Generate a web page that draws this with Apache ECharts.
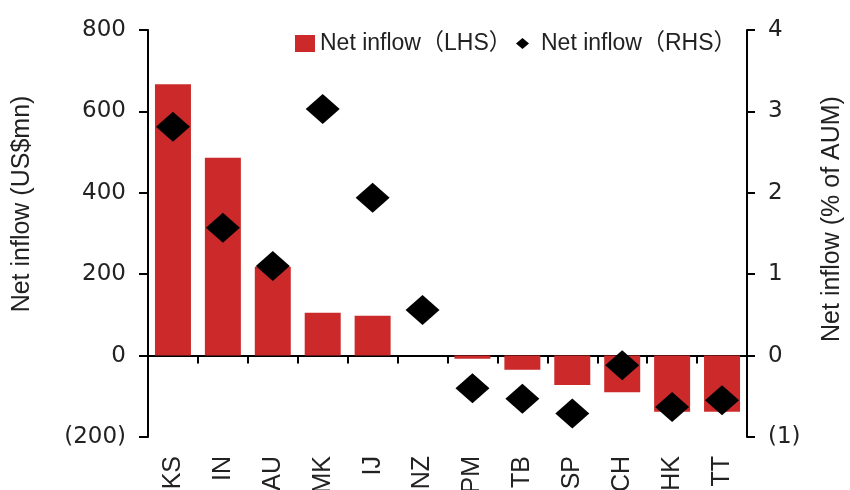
<!DOCTYPE html>
<html>
<head>
<meta charset="utf-8">
<script src="https://cdn.jsdelivr.net/npm/echarts@6/dist/echarts.min.js"></script>
<style>
html,body{margin:0;padding:0;background:#fff;}
#chart{width:850px;height:490px;}
</style>
</head>
<body>
<div id="chart"></div>
<script>
var categories = ['KS','IN','AU','MK','IJ','NZ','PM','TB','SP','CH','HK','TT'];
var netInflowLHS = [667, 486, 218, 105, 98, 0, -8, -35, -72, -90, -138, -138];
var netInflowRHS = [2.81, 1.57, 1.10, 3.03, 1.94, 0.56, -0.40, -0.53, -0.71, -0.12, -0.63, -0.55];
var lhsName = 'Net inflow（LHS）';
var rhsName = 'Net inflow（RHS）';
var leftTitle = 'Net inflow (US$mn)';
var rightTitle = 'Net inflow (% of AUM)';

var ARIAL = '"Liberation Sans", Arial, "Noto Sans CJK SC", sans-serif';
var NUMF = '"DejaVu Sans", sans-serif';
var TXT = '#222';
function paren(v){ return v < 0 ? '(' + Math.abs(v) + ')' : String(v); }

var chart = echarts.init(document.getElementById('chart'), null, {renderer:'canvas'});
chart.setOption({
  animation: false,
  backgroundColor: '#fff',
  grid: {left: 148, right: 103, top: 30, bottom: 53, containLabel: false, outerBoundsMode: 'none'},
  legend: [
    {data: [lhsName], left: 295, top: 32, padding: 0, itemWidth: 20, itemHeight: 17, icon: 'rect',
     textStyle: {fontFamily: ARIAL, fontSize: 23, color: TXT}},
    {data: [{name: rhsName, icon: 'diamond'}], left: 516, top: 32, padding: 0, itemWidth: 13, itemHeight: 11,
     itemStyle: {opacity: 1},
     textStyle: {fontFamily: ARIAL, fontSize: 23, color: TXT, padding: [0,0,0,7]}}
  ],
  xAxis: [
    {type: 'category', data: categories, position: 'bottom',
     axisLine: {onZero: true, onZeroAxisIndex: 0, lineStyle: {color: '#000', width: 2}},
     axisTick: {show: true, length: 8, lineStyle: {color: '#000', width: 2}},
     axisLabel: {show: false}, splitLine: {show: false}},
    {type: 'category', data: categories, position: 'bottom',
     axisLine: {show: false, onZero: false}, axisTick: {show: false},
     axisLabel: {rotate: 90, margin: 19, fontFamily: ARIAL, fontSize: 25, color: TXT},
     splitLine: {show: false}}
  ],
  yAxis: [
    {type: 'value', min: -200, max: 800, interval: 200, position: 'left',
     axisLine: {show: true, lineStyle: {color: '#000', width: 2}},
     axisTick: {show: true, length: 9, lineStyle: {color: '#000', width: 2}},
     axisLabel: {formatter: paren, margin: 22, fontFamily: NUMF, fontSize: 23, color: TXT},
     splitLine: {show: false}},
    {type: 'value', min: -1, max: 4, interval: 1, position: 'right',
     axisLine: {show: true, lineStyle: {color: '#000', width: 2}},
     axisTick: {show: true, length: 8, lineStyle: {color: '#000', width: 2}},
     axisLabel: {formatter: paren, margin: 21, fontFamily: NUMF, fontSize: 23, color: TXT},
     splitLine: {show: false}}
  ],
  series: [
    {name: lhsName, type: 'bar', data: netInflowLHS, xAxisIndex: 0, yAxisIndex: 0,
     barWidth: 36, itemStyle: {color: '#CC2A2A'}},
    {name: rhsName, type: 'scatter', data: netInflowRHS, xAxisIndex: 0, yAxisIndex: 1,
     symbol: 'diamond', symbolSize: [34, 30], itemStyle: {color: '#000', opacity: 1}, z: 5}
  ],
  graphic: [
    {type: 'text', x: 22, y: 204, rotation: Math.PI/2,
     style: {text: leftTitle, fontFamily: ARIAL, fontSize: 25, fill: TXT, align: 'center', verticalAlign: 'middle'}},
    {type: 'text', x: 832, y: 219, rotation: Math.PI/2,
     style: {text: rightTitle, fontFamily: ARIAL, fontSize: 25, fill: TXT, align: 'center', verticalAlign: 'middle'}}
  ]
});
</script>
</body>
</html>
